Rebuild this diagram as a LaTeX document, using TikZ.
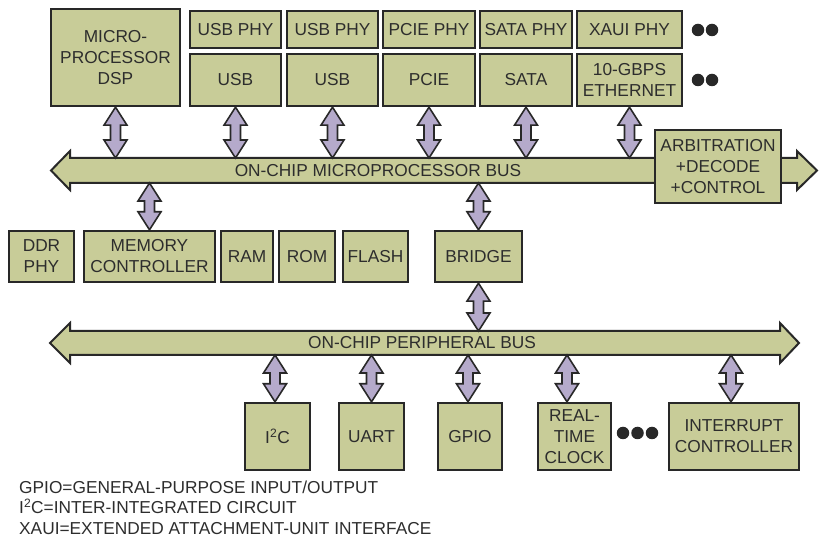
\documentclass[tikz,border=0pt]{standalone}
\usepackage{fontspec}
\setmainfont{Liberation Sans}
\usetikzlibrary{calc}
\definecolor{boxgreen}{RGB}{200,204,152}
\definecolor{linkpurple}{RGB}{181,170,203}
\definecolor{edgegray}{RGB}{40,40,40}
\definecolor{textgray}{RGB}{45,45,45}
\tikzset{
  block/.style={draw=edgegray, line width=2.4pt, fill=boxgreen, align=center,
    inner sep=0pt, text=textgray, font=\fontsize{17.3}{21}\selectfont},
  busbody/.style={draw=edgegray, line width=2pt, fill=boxgreen, line join=miter},
  buslabel/.style={text=textgray, inner sep=0pt, font=\fontsize{17.3}{21}\selectfont},
  link/.style={draw=edgegray, line width=1.6pt, fill=linkpurple, line join=miter},
  blob/.style={circle, fill=edgegray, inner sep=0pt, minimum size=12.5pt},
}
% double-headed link between two points on one vertical
\newcommand\vlink[2]{%
  \path[link] let \p1=#1, \p2=#2 in
    (\x1,\y1) -- ({\x1+11.5pt},{\y1-18pt}) -- ({\x1+5pt},{\y1-18pt})
    -- ({\x1+5pt},{\y2+18pt}) -- ({\x1+11.5pt},{\y2+18pt}) -- (\x1,\y2)
    -- ({\x1-11.5pt},{\y2+18pt}) -- ({\x1-5pt},{\y2+18pt})
    -- ({\x1-5pt},{\y1-18pt}) -- ({\x1-11.5pt},{\y1-18pt}) -- cycle;}
\begin{document}
\begin{tikzpicture}[x=1pt, y=1pt]
  \useasboundingbox (0,0) rectangle (820,538);
  % buses
  \path[busbody] (51,367.5) -- (70,387) -- (70,380) -- (797,380) -- (797,387)
    -- (817,367.5) -- (797,348) -- (797,355) -- (70,355) -- (70,348) -- cycle;
  \coordinate (mbustop) at (0,380);
  \coordinate (mbusbot) at (0,355);
  \node[buslabel] (mbuslabel) at (378,367.5) {ON-CHIP MICROPROCESSOR BUS};
  \path[busbody] (50,195) -- (70,215) -- (70,207) -- (780,207) -- (780,215)
    -- (799,195) -- (780,175) -- (780,183) -- (70,183) -- (70,175) -- cycle;
  \coordinate (pbustop) at (0,207);
  \coordinate (pbusbot) at (0,183);
  \node[buslabel] (pbuslabel) at (422,195) {ON-CHIP PERIPHERAL BUS};
  % top row
  \node[block, minimum width=129pt, minimum height=97pt] (dsp) at (115.5,480.5)
    {MICRO-\\PROCESSOR\\DSP};
  \node[block, minimum width=91pt, minimum height=37pt] (usbphyA) at (235.5,508.5) {USB PHY};
  \node[block, minimum width=91pt, minimum height=52pt] (usbA) at (235.5,458) {USB};
  \node[block, minimum width=91pt, minimum height=37pt] (usbphyB) at (332.5,508.5) {USB PHY};
  \node[block, minimum width=91pt, minimum height=52pt] (usbB) at (332.5,458) {USB};
  \node[block, minimum width=92pt, minimum height=37pt] (pciephy) at (429,508.5) {PCIE PHY};
  \node[block, minimum width=92pt, minimum height=52pt] (pcie) at (429,458) {PCIE};
  \node[block, minimum width=92pt, minimum height=37pt] (sataphy) at (526,508.5) {SATA PHY};
  \node[block, minimum width=92pt, minimum height=52pt] (sata) at (526,458) {SATA};
  \node[block, minimum width=105pt, minimum height=37pt] (xauiphy) at (629.5,508.5) {XAUI PHY};
  \node[block, minimum width=105pt, minimum height=52pt] (ether) at (629.5,458)
    {10-GBPS\\ETHERNET};
  \node[blob] (dotA1) at (698,508) {};
  \node[blob] (dotA2) at (712,508) {};
  \node[blob] (dotB1) at (698,458) {};
  \node[blob] (dotB2) at (712,458) {};
  \node[block, minimum width=126pt, minimum height=73pt] (arb) at (718,371.5)
    {ARBITRATION\\+DECODE\\+CONTROL};
  % memory row
  \node[block, minimum width=65pt, minimum height=51pt] (ddrphy) at (41.5,281.5) {DDR\\PHY};
  \node[block, minimum width=131pt, minimum height=51pt] (memctl) at (149.5,281.5)
    {MEMORY\\CONTROLLER};
  \node[block, minimum width=52pt, minimum height=51pt] (ram) at (247,281.5) {RAM};
  \node[block, minimum width=56pt, minimum height=51pt] (rom) at (307,281.5) {ROM};
  \node[block, minimum width=65pt, minimum height=51pt] (flash) at (375.5,281.5) {FLASH};
  \node[block, minimum width=87pt, minimum height=51pt] (bridge) at (478.5,281.5) {BRIDGE};
  % peripheral row
  \node[block, minimum width=65pt, minimum height=67pt] (itwoc) at (277.5,101.5)
    {I\textsuperscript{2}C};
  \node[block, minimum width=65pt, minimum height=67pt] (uart) at (371.5,101.5) {UART};
  \node[block, minimum width=64pt, minimum height=67pt] (gpio) at (470,101.5) {GPIO};
  \node[block, minimum width=73pt, minimum height=67pt] (rtc) at (574.5,101.5)
    {REAL-\\TIME\\CLOCK};
  \node[blob] (dotC1) at (623,105) {};
  \node[blob] (dotC2) at (637.5,105) {};
  \node[blob] (dotC3) at (652,105) {};
  \node[block, minimum width=130pt, minimum height=67pt] (intctl) at (734,101.5)
    {INTERRUPT\\CONTROLLER};
  % links
  \vlink{(dsp.south)}{(dsp.south |- mbustop)}
  \vlink{(usbA.south)}{(usbA.south |- mbustop)}
  \vlink{(usbB.south)}{(usbB.south |- mbustop)}
  \vlink{(pcie.south)}{(pcie.south |- mbustop)}
  \vlink{(sata.south)}{(sata.south |- mbustop)}
  \vlink{(ether.south)}{(ether.south |- mbustop)}
  \vlink{(memctl.north |- mbusbot)}{(memctl.north)}
  \vlink{(bridge.north |- mbusbot)}{(bridge.north)}
  \vlink{(bridge.south)}{(bridge.south |- pbustop)}
  \vlink{([xshift=-2.5pt]itwoc.north |- pbusbot)}{([xshift=-2.5pt]itwoc.north)}
  \vlink{(uart.north |- pbusbot)}{(uart.north)}
  \vlink{([xshift=-2pt]gpio.north |- pbusbot)}{([xshift=-2pt]gpio.north)}
  \vlink{([xshift=-7.5pt]rtc.north |- pbusbot)}{([xshift=-7.5pt]rtc.north)}
  \vlink{([xshift=-3pt]intctl.north |- pbusbot)}{([xshift=-3pt]intctl.north)}
  % legend
  \node[anchor=west, align=left, inner sep=0pt, text=textgray,
    font=\fontsize{17.3}{20.5}\selectfont] (legend) at (19,30.5)
    {GPIO=GENERAL-PURPOSE INPUT/OUTPUT\\
     I\textsuperscript{2}C=INTER-INTEGRATED CIRCUIT\\
     XAUI=EXTENDED ATTACHMENT-UNIT INTERFACE};
\end{tikzpicture}
\end{document}
